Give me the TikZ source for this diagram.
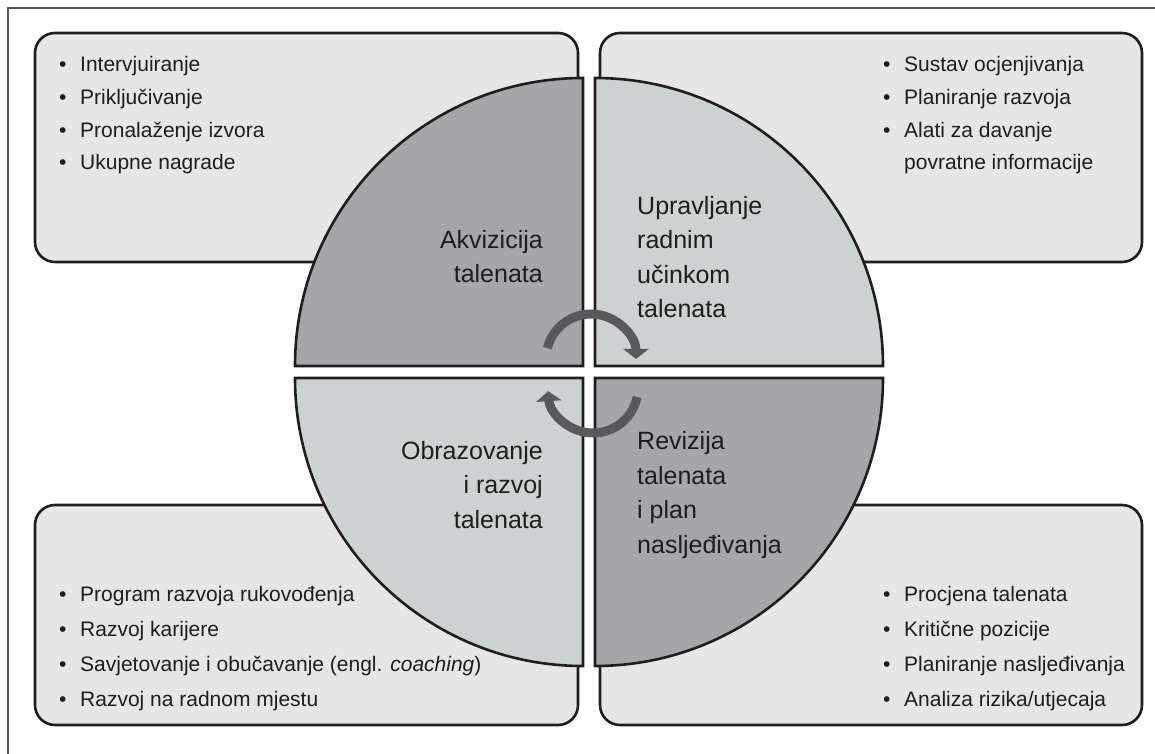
\documentclass[tikz,border=0pt]{standalone}
\usepackage{fontspec}
\setmainfont{Liberation Sans}
\usetikzlibrary{arrows.meta}
\definecolor{boxfill}{HTML}{E6E6E6}
\definecolor{qdark}{HTML}{A6A5A9}
\definecolor{qlight}{HTML}{CCD1D1}
\definecolor{arrowc}{HTML}{59585B}
\definecolor{txt}{HTML}{1E1E1E}
\definecolor{edge}{HTML}{1E1E1E}
\definecolor{framec}{HTML}{555555}
\newcommand{\bitem}[1]{\makebox[21pt][l]{•}#1}
\newcommand{\bcont}[1]{\hspace*{21pt}#1}
\begin{document}
\begin{tikzpicture}[x=1pt,y=1pt,
  panel/.style={draw=edge, line width=2.6pt, fill=boxfill, rounded corners=20pt},
  quarter/.style={draw=edge, line width=2.6pt, line join=miter},
  listtop/.style={inner sep=0pt, align=left, anchor=base west, text=txt, font=\fontsize{21}{32.7}\selectfont},
  listbot/.style={inner sep=0pt, align=left, anchor=base west, text=txt, font=\fontsize{21}{35}\selectfont},
  labl/.style={inner sep=0pt, text=txt, font=\fontsize{25}{34.5}\selectfont},
  cyc/.style={draw=arrowc, line width=9pt, -{Triangle[width=25pt,length=10pt]}}
]
\useasboundingbox (0,0) rectangle (1155,753);
% outer frame
\draw[framec, line width=1.5pt] (8,-5) -- (8,745) -- (1160,745);
% panels
\draw[panel] (35,491) rectangle (578,720);
\draw[panel] (600,491) rectangle (1142,720);
\draw[panel] (35,28) rectangle (578,248);
\draw[panel] (600,28) rectangle (1142,248);
% quarters
\draw[quarter, fill=qdark] (583,387) -- (583,675) arc[start angle=90, end angle=180, radius=288] -- cycle;
\draw[quarter, fill=qlight] (595,387) -- (883,387) arc[start angle=0, end angle=90, radius=288] -- cycle;
\draw[quarter, fill=qlight] (583,375) -- (295,375) arc[start angle=180, end angle=270, radius=288] -- cycle;
\draw[quarter, fill=qdark] (595,375) -- (595,87) arc[start angle=270, end angle=360, radius=288] -- cycle;
% cycle arrows
\coordinate (ctop) at (591,394);
\coordinate (cbot) at (593,365);
\draw[cyc] (ctop) ++(166:45) arc[start angle=166, end angle=0, radius=45];
\draw[cyc] (cbot) ++(-11.5:45) arc[start angle=-11.5, end angle=-176, radius=45];
% lists (base anchor = baseline of last line)
\node[listtop] (tl) at (59,583) {\bitem{Intervjuiranje}\\ \bitem{Priključivanje}\\ \bitem{Pronalaženje izvora}\\ \bitem{Ukupne nagrade}};
\node[listtop] (tr) at (883,583) {\bitem{Sustav ocjenjivanja}\\ \bitem{Planiranje razvoja}\\ \bitem{Alati za davanje}\\ \bcont{povratne informacije}};
\node[listbot] (bl) at (59,47) {\bitem{Program razvoja rukovođenja}\\ \bitem{Razvoj karijere}\\ \bitem{Savjetovanje i obučavanje (engl. \textit{coaching})}\\ \bitem{Razvoj na radnom mjestu}};
\node[listbot] (br) at (883,47) {\bitem{Procjena talenata}\\ \bitem{Kritične pozicije}\\ \bitem{Planiranje nasljeđivanja}\\ \bitem{Analiza rizika/utjecaja}};
% quarter labels
\node[labl, align=right, anchor=base east] (qa) at (543,470) {Akvizicija\\ talenata};
\node[labl, align=left, anchor=base west] (qb) at (637,435) {Upravljanje\\ radnim\\ učinkom\\ talenata};
\node[labl, align=right, anchor=base east] (qc) at (543,225) {Obrazovanje\\ i razvoj\\ talenata};
\node[labl, align=left, anchor=base west] (qd) at (637,200) {Revizija\\ talenata\\ i plan\\ nasljeđivanja};
\end{tikzpicture}
\end{document}
